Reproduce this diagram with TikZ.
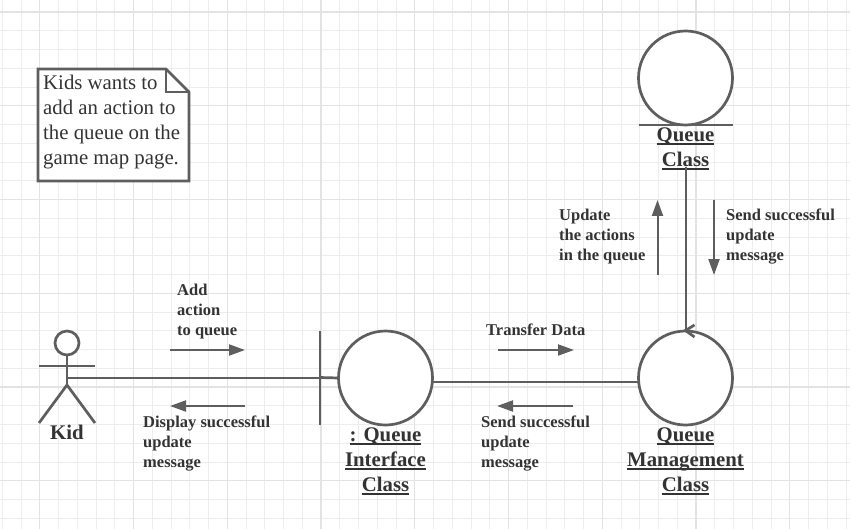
\documentclass[tikz,border=0pt]{standalone}
\usepackage{fontspec}
\setmainfont{Liberation Serif}
\usepackage{xcolor}
\usetikzlibrary{
arrows.meta,
positioning,
calc
}
\definecolor{linegray}{HTML}{5E5E5E}
\definecolor{textgray}{HTML}{333333}
\newcommand{\ulabel}[1]{\leavevmode\setbox0=\hbox{#1}\rlap{\rule[-3.5pt]{\wd0}{1.6pt}}\box0}

\begin{document}
\begin{tikzpicture}[
    x=1pt, y=-1pt,
    >={Triangle[angle=45:6pt,length=16pt,width=11pt]},
    gridminor/.style={draw=black!7, line width=0.8pt},
    gridmajor/.style={draw=black!11, line width=0.9pt},
    gridstrong/.style={draw=black!11, line width=1.6pt},
    shapeline/.style={draw=linegray, line width=2.7pt},
    conn/.style={draw=linegray, line width=2pt},
    objcircle/.style={shapeline, circle, fill=white, outer sep=0pt, minimum size=94pt, inner sep=0pt},
    objlabel/.style={font=\fontsize{20.8}{25}\selectfont\bfseries, text=textgray, align=center, inner sep=0pt},
    msg/.style={font=\fontsize{16.5}{20}\selectfont\bfseries, text=textgray, align=left, inner sep=0pt, anchor=west},
    msgarrow/.style={->, draw=linegray, fill=linegray, line width=2pt}
  ]
  \useasboundingbox (0,0) rectangle (850,529);
  \fill[white] (0,0) rectangle (850,529);

  % grid
  \foreach \i in {-2,...,43} {
    \draw[gridminor] ({39.75+18.75*\i},0) -- ({39.75+18.75*\i},529);
  }
  \foreach \i in {0,...,28} {
    \draw[gridminor] (0,{12+18.75*\i}) -- (850,{12+18.75*\i});
  }
  \foreach \i in {0,...,8} {
    \draw[gridmajor] ({39.75+93.75*\i},0) -- ({39.75+93.75*\i},529);
  }
  \foreach \i in {0,...,5} {
    \draw[gridmajor] (0,{12+93.75*\i}) -- (850,{12+93.75*\i});
  }
  \draw[gridstrong] (321,0) -- (321,529);
  \draw[gridstrong] (696,0) -- (696,529);
  \draw[gridstrong] (0,12) -- (850,12);
  \draw[gridstrong] (0,387) -- (850,387);

  % note
  \draw[shapeline, fill=white] (38,69) -- (166,69) -- (189,92) -- (189,181) -- (38,181) -- cycle;
  \draw[shapeline] (166,69) -- (166,92) -- (189,92);
  \node[anchor=west, align=left, inner sep=0pt, text=textgray,
    font=\fontsize{20.8}{25}\selectfont] (note) at (43,122.5) {%
    Kids wants to\\
    add an action to\\
    the queue on the\\
    game map page.};

  % objects
  \node[objcircle] (iface) at (385.5,378) {};
  \node[objcircle] (mgmt) at (685.5,378) {};
  \node[objcircle] (queue) at (685.5,78) {};
  \node[objlabel, below=2.5pt of iface] (ifacelabel) {\ulabel{: Queue}\\\ulabel{Interface}\\\ulabel{Class}};
  \node[objlabel, below=2.5pt of mgmt] (mgmtlabel) {\ulabel{Queue}\\\ulabel{Management}\\\ulabel{Class}};
  \node[objlabel, below=2.5pt of queue] (queuelabel) {\ulabel{Queue}\\\ulabel{Class}};

  % boundary bar and entity bar
  \coordinate (bndtop) at (320,331);
  \coordinate (bndbot) at (320,425);
  \coordinate (bnd) at (320,377.5);
  \draw[shapeline] (bndtop) -- (bndbot);
  \draw[shapeline] (bnd) -- (iface.west);
  \draw[shapeline] ($(queue.south)+(-47,0)$) -- ($(queue.south)+(47,0)$);

  % control arrowhead
  \draw[shapeline] ($(mgmt.north)+(9,-6)$) -- ($(mgmt.north)+(0,-0.5)$) -- ($(mgmt.north)+(9,6)$);

  % actor
  \node[shapeline, circle, fill=white, outer sep=0pt, minimum size=24pt, inner sep=0pt] (kid) at (67,343) {};
  \coordinate (kidhip) at (67,385);
  \coordinate (kidhand) at (67,377.5);
  \draw[shapeline] (kid.south) -- (kidhip);
  \draw[shapeline] (39,366) -- (95,366);
  \draw[shapeline] (39,423) -- (kidhip) -- (95,423);
  \node[objlabel, below=70pt of kid] (kidlabel) {Kid};

  % links
  \draw[conn] (kidhand) -- (bnd);
  \draw[conn] (iface.-5) -- (mgmt.185);
  \draw[conn] ($(queuelabel.south)+(0,-3)$) -- (mgmt.north);

  % messages
  \coordinate (a1) at (170,350); \coordinate (a2) at (245,350);
  \coordinate (b1) at (245,406); \coordinate (b2) at (170,406);
  \coordinate (c1) at (498,350); \coordinate (c2) at (574,350);
  \coordinate (d1) at (573,406); \coordinate (d2) at (497,406);
  \coordinate (e1) at (657.5,275); \coordinate (e2) at (657.5,200);
  \coordinate (f1) at (714,200); \coordinate (f2) at (714,275);
  \draw[msgarrow] (a1) -- (a2);
  \draw[msgarrow] (b1) -- (b2);
  \draw[msgarrow] (c1) -- (c2);
  \draw[msgarrow] (d1) -- (d2);
  \draw[msgarrow] (e1) -- (e2);
  \draw[msgarrow] (f1) -- (f2);

  \node[msg] (addlabel) at (177,312) {Add\\action\\to queue};
  \node[msg] (displaylabel) at (143,444) {Display successful\\update\\message};
  \node[msg] (transferlabel) at (486,330) {Transfer Data};
  \node[msg] (sendlabel) at (481,444) {Send successful\\update\\message};
  \node[msg] (updatelabel) at (559,237) {Update\\the actions\\in the queue};
  \node[msg] (sendqlabel) at (726,237) {Send successful\\update\\message};
\end{tikzpicture}
\end{document}
